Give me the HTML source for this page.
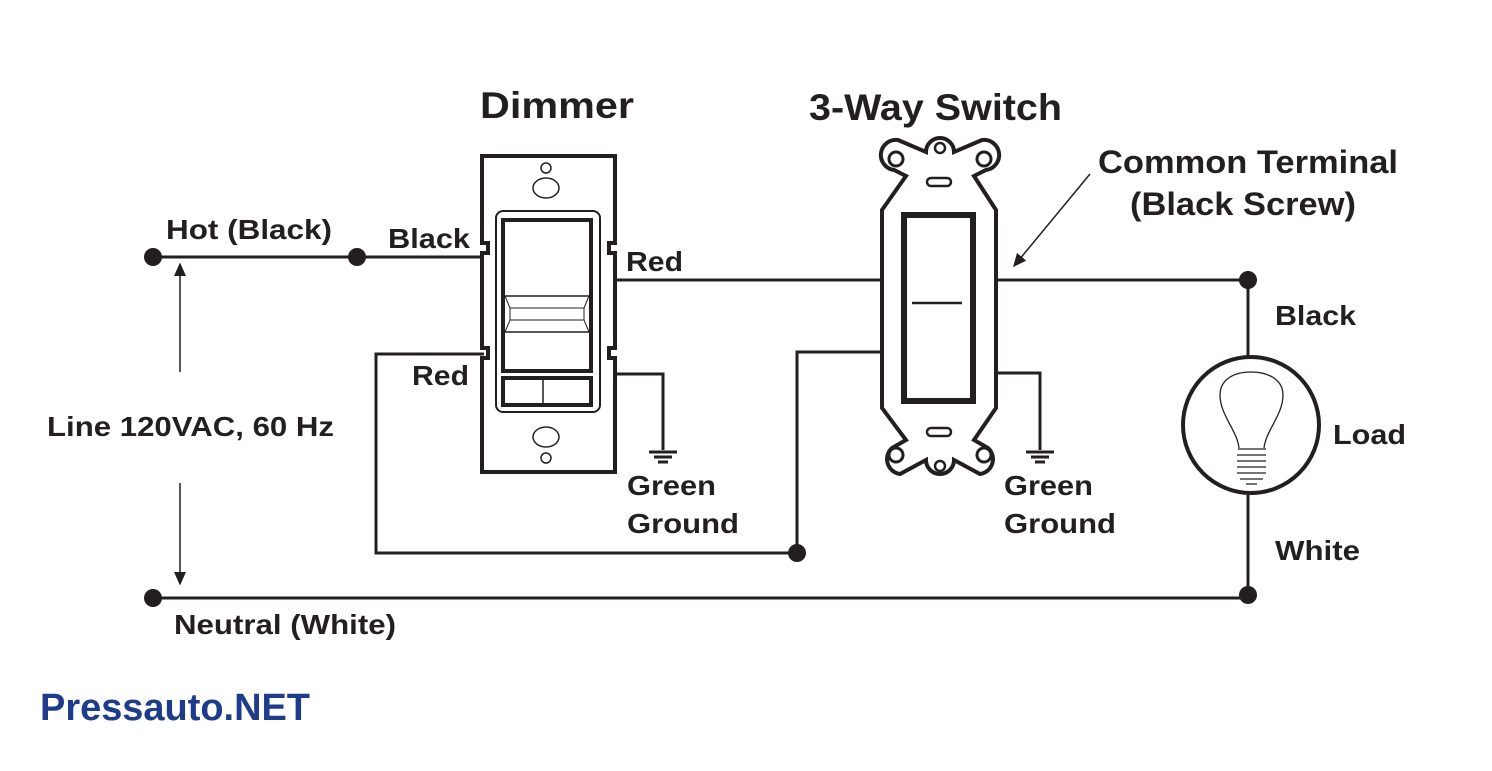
<!DOCTYPE html>
<html><head><style>
html,body{margin:0;padding:0;background:#fff}
svg{display:block}
text{font-family:"Liberation Sans",Arial,sans-serif;font-weight:bold;fill:#231f20}
</style></head><body>
<svg width="1492" height="771" viewBox="0 0 1492 771" xmlns="http://www.w3.org/2000/svg">
<defs><marker id="ah" markerWidth="10" markerHeight="10" refX="8" refY="5" orient="auto"><path d="M0,1 L9,5 L0,9 z" fill="#231f20"/></marker></defs>
<g stroke="#231f20" fill="none" stroke-width="3">
<line x1="153" y1="257" x2="484" y2="257"/>
<line x1="615" y1="280" x2="884" y2="280"/>
<polyline points="484,354 376,354 376,553 797,553 797,352 884,352"/>
<polyline points="615,374 663,374 663,450"/>
<polyline points="994,280 1248,280 1248,357"/>
<polyline points="994,373 1040,373 1040,450"/>
<line x1="1248" y1="494" x2="1248" y2="595"/>
<line x1="153" y1="598" x2="1248" y2="598"/>
</g>
<g stroke="#231f20" stroke-width="1.5" fill="none">
<line x1="180" y1="372" x2="180" y2="264" marker-end="url(#ah)"/>
<line x1="180" y1="483" x2="180" y2="584" marker-end="url(#ah)"/>
<line x1="1090" y1="174" x2="1014" y2="266" marker-end="url(#ah)"/>
</g>
<g stroke="#231f20" stroke-width="3">
<line x1="649" y1="452" x2="677" y2="452"/><line x1="654" y1="457" x2="672" y2="457"/><line x1="658" y1="462" x2="668" y2="462"/>
<line x1="1026" y1="452" x2="1054" y2="452"/><line x1="1031" y1="457" x2="1049" y2="457"/><line x1="1035" y1="462" x2="1045" y2="462"/>
</g>
<g fill="#231f20">
<circle cx="153" cy="257" r="9"/><circle cx="357" cy="257" r="9"/>
<circle cx="797" cy="553" r="9"/><circle cx="153" cy="598" r="9"/>
<circle cx="1248" cy="280" r="9"/><circle cx="1248" cy="595" r="9"/>
</g>
<g stroke="#231f20" fill="none">
<path d="M482,156 H615 V243 h-6 v10 h6 V348 h-6 v10 h6 V472 H482 V358 h6 v-10 h-6 V253 h6 v-10 h-6 Z" stroke-width="4"/>
<circle cx="546" cy="168" r="5" stroke-width="1.5"/>
<ellipse cx="546" cy="188" rx="13" ry="10" stroke-width="1.5"/>
<ellipse cx="546" cy="437" rx="13" ry="10" stroke-width="1.5"/>
<circle cx="546" cy="458" r="5" stroke-width="1.5"/>
<rect x="496" y="211" width="104" height="201" rx="7" stroke-width="2"/>
<rect x="503" y="220" width="88" height="151" stroke-width="4"/>
<rect x="503" y="378" width="88" height="27" stroke-width="4"/>
<line x1="543" y1="378" x2="543" y2="405" stroke-width="1.5"/>
<line x1="505" y1="296" x2="589" y2="296" stroke-width="1.5"/>
<line x1="505" y1="332" x2="589" y2="332" stroke-width="1.5"/>
<line x1="510" y1="308" x2="584" y2="308" stroke-width="1"/>
<line x1="510" y1="320" x2="584" y2="320" stroke-width="1"/>
<polyline points="505,296 510,308 510,320 505,332" stroke-width="1"/>
<polyline points="589,296 584,308 584,320 589,332" stroke-width="1"/>
</g>
<g stroke="#231f20" fill="none" stroke-width="4">
<path d="M898,140 a15,15 0 0 0 -4,30 L906,176 L882,210 V408 L906,440 L892,448 a15,15 0 0 0 8,26 L926,460 a14,14 0 0 0 28,0 L980,474 a15,15 0 0 0 8,-26 L974,440 L996,408 V210 L974,176 L986,170 a15,15 0 0 0 -4,-30 L954,152 a14,14 0 0 0 -28,0 Z"/>
<circle cx="896" cy="159" r="7" stroke-width="3"/>
<circle cx="984" cy="159" r="7" stroke-width="3"/>
<circle cx="940" cy="148" r="5" stroke-width="2.5"/>
<circle cx="896" cy="455" r="7" stroke-width="3"/>
<circle cx="984" cy="455" r="7" stroke-width="3"/>
<circle cx="940" cy="466" r="5" stroke-width="2.5"/>
<rect x="927" y="178" width="24" height="8" rx="4" stroke-width="2.5"/>
<rect x="927" y="428" width="24" height="8" rx="4" stroke-width="2.5"/>
<rect x="904" y="215" width="69" height="186" stroke-width="6"/>
<line x1="912" y1="303" x2="962" y2="303" stroke-width="2.5"/>
</g>
<circle cx="1251" cy="425" r="68" stroke="#231f20" stroke-width="4" fill="none"/>
<g stroke="#231f20" fill="none" stroke-width="1.3">
<path d="M1239,448 C1237,430 1220,415 1220,395 C1220,380 1233,372 1251,372 C1269,372 1283,380 1283,395 C1283,415 1266,430 1264,448"/>
<path d="M1238,449 h28 M1237,455 h29 M1237,461 h29 M1237,467 h29 M1237,473 h29 M1240,479 h23 M1246,484 h11"/>
</g>
<g lengthAdjust="spacingAndGlyphs">
<text x="480" y="118" font-size="37" textLength="154" lengthAdjust="spacingAndGlyphs">Dimmer</text>
<text x="809" y="120" font-size="37" textLength="253" lengthAdjust="spacingAndGlyphs">3-Way Switch</text>
<text x="1098" y="173" font-size="32" textLength="300" lengthAdjust="spacingAndGlyphs">Common Terminal</text>
<text x="1130" y="215" font-size="32" textLength="226" lengthAdjust="spacingAndGlyphs">(Black Screw)</text>
<text x="166" y="239" font-size="28" textLength="166" lengthAdjust="spacingAndGlyphs">Hot (Black)</text>
<text x="388" y="248" font-size="28" textLength="82" lengthAdjust="spacingAndGlyphs">Black</text>
<text x="626" y="271" font-size="28" textLength="57" lengthAdjust="spacingAndGlyphs">Red</text>
<text x="412" y="385" font-size="28" textLength="57" lengthAdjust="spacingAndGlyphs">Red</text>
<text x="47" y="436" font-size="28" textLength="287" lengthAdjust="spacingAndGlyphs">Line 120VAC, 60 Hz</text>
<text x="627" y="495" font-size="28" textLength="89" lengthAdjust="spacingAndGlyphs">Green</text>
<text x="627" y="533" font-size="28" textLength="112" lengthAdjust="spacingAndGlyphs">Ground</text>
<text x="1004" y="495" font-size="28" textLength="89" lengthAdjust="spacingAndGlyphs">Green</text>
<text x="1004" y="533" font-size="28" textLength="112" lengthAdjust="spacingAndGlyphs">Ground</text>
<text x="1275" y="325" font-size="28" textLength="81" lengthAdjust="spacingAndGlyphs">Black</text>
<text x="1333" y="444" font-size="28" textLength="73" lengthAdjust="spacingAndGlyphs">Load</text>
<text x="1275" y="560" font-size="28" textLength="85" lengthAdjust="spacingAndGlyphs">White</text>
<text x="174" y="634" font-size="28" textLength="222" lengthAdjust="spacingAndGlyphs">Neutral (White)</text>
<text x="40" y="720" font-size="38" textLength="270" lengthAdjust="spacingAndGlyphs" style="fill:#1f3c8c">Pressauto.NET</text>
</g>
</svg>
</body></html>
